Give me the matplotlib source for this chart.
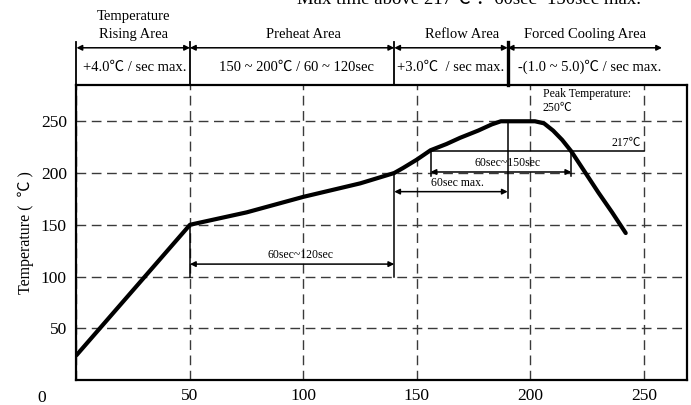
import matplotlib.pyplot as plt

plt.rcParams['font.family'] = ['Liberation Serif', 'Noto Sans CJK SC', 'DejaVu Serif']

# reflow profile (time in sec, temperature in C)
time = [0, 50, 75, 100, 125, 140, 144, 150, 156, 163, 169, 177, 183, 187, 195, 202,
        206, 210, 214, 218, 224, 230, 236, 242]
temp = [24, 150, 162, 177, 190, 200, 205, 213, 222, 228, 234, 241, 247, 250, 250, 250,
        248, 241, 232, 221, 201, 181, 162, 142]

xticks = [0, 50, 100, 150, 200, 250]
yticks = [50, 100, 150, 200, 250]

# header zones
zone_edges = [0, 50, 140, 190, 258]
zone_titles = ['Rising Area', 'Preheat Area', 'Reflow Area', 'Forced Cooling Area']
zone_rates = ['+4.0℃ / sec max.', '150 ~ 200℃ / 60 ~ 120sec', '+3.0℃  / sec max.',
              '-(1.0 ~ 5.0)℃ / sec max.']
zone_title_x = [25, 100, 170, 224]
zone_rate_x = [25.5, 97, 165, 226]

peak = 250
liquidus_y = 221   # where the 217C line sits in the drawing
preheat_span = (50, 140)
reflow_span = (140, 190)
above_liq_span = (156, 218)

fig = plt.figure(figsize=(6.91, 4.05), dpi=100)
ax = fig.add_axes([0.1107, 0.0617, 0.8835, 0.7283])

ax.plot(time, temp, color='black', lw=3.0, solid_joinstyle='round', solid_capstyle='round', zorder=5)

ax.set_xlim(0, 269)
ax.set_ylim(0, 285)
ax.set_xticks(xticks)
ax.set_xticklabels([''] + [str(v) for v in xticks[1:]])
ax.set_yticks(yticks)
ax.tick_params(length=0, labelsize=12.5)
ax.tick_params(axis='x', pad=6)
ax.tick_params(axis='y', pad=7)
ax.grid(True, ls=(0, (7, 4)), color='#3a3a3a', lw=1.0)
for s in ax.spines.values():
    s.set_linewidth(1.6)
ax.text(-15.5, -17, '0', ha='center', va='center', fontsize=12.5)
ax.set_ylabel('Temperature (  ℃ )', fontsize=11.5, labelpad=5)

arw = dict(arrowstyle='<|-|>', color='black', lw=1.1, shrinkA=0, shrinkB=0,
           mutation_scale=8)
lk = dict(color='black', lw=1.1)

# 60sec~120sec
ax.plot([preheat_span[0]] * 2, [100, 150], **lk)
ax.plot([preheat_span[1]] * 2, [100, 200], **lk)
ax.annotate('', xy=(preheat_span[0], 112), xytext=(preheat_span[1], 112), arrowprops=arw)
ax.text(98.5, 121, '60sec~120sec', ha='center', va='center', fontsize=8.5)

# 60sec max.
ax.plot([reflow_span[1]] * 2, [176, peak], **lk)
ax.annotate('', xy=(reflow_span[0], 182), xytext=(reflow_span[1], 182), arrowprops=arw)
ax.text(168, 190, '60sec max.', ha='center', va='center', fontsize=8.5)

# 60sec~150sec above 217
ax.plot([above_liq_span[0], 250], [liquidus_y] * 2, **lk)
ax.plot([above_liq_span[0]] * 2, [197, liquidus_y], **lk)
ax.plot([above_liq_span[1]] * 2, [197, liquidus_y], **lk)
ax.annotate('', xy=(above_liq_span[0], 201), xytext=(above_liq_span[1], 201), arrowprops=arw)
ax.text(190, 210, '60sec~150sec', ha='center', va='center', fontsize=8.5)
ax.text(248.5, 229, '217℃', ha='right', va='center', fontsize=8.5)
ax.text(205.5, 276, 'Peak Temperature:', ha='left', va='center', fontsize=8.5)
ax.text(205.5, 263, '250℃', ha='left', va='center', fontsize=8.5)

# header
for i, x in enumerate(zone_edges[:-1]):
    ax.plot([x, x], [285, 327], color='black', lw=2.4 if i == 3 else 1.3, clip_on=False)
    ax.annotate('', xy=(zone_edges[i], 321), xytext=(zone_edges[i + 1], 321),
                arrowprops=arw, annotation_clip=False)
    ax.text(zone_rate_x[i], 302.5, zone_rates[i], ha='center', va='center', fontsize=10.5)
for i, t in enumerate(zone_titles):
    ax.text(zone_title_x[i], 333.5, t, ha='center', va='center', fontsize=10.5)
ax.text(zone_title_x[0], 351, 'Temperature', ha='center', va='center', fontsize=10.5)
ax.text(97, 367.5, 'Max time above 217℃ ：60sec~150sec max.', ha='left',
        va='center', fontsize=13.5)

fig.savefig('out.png', dpi=100)
